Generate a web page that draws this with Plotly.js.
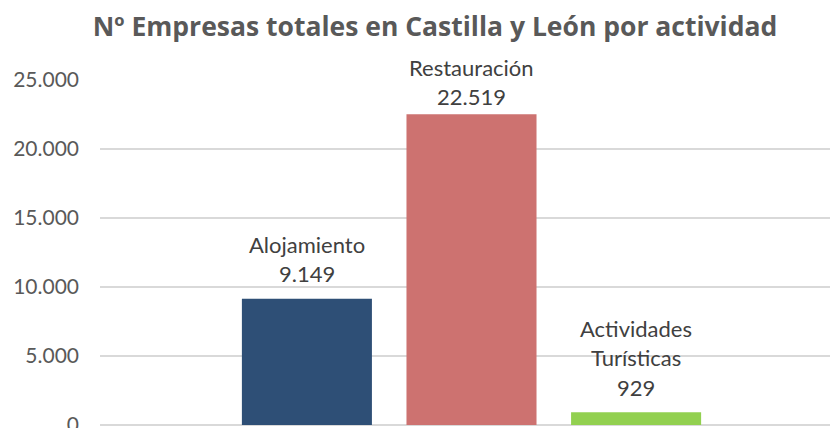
<!DOCTYPE html>
<html>
<head>
<meta charset="utf-8">
<script src="https://cdn.plot.ly/plotly-3.0.1.min.js"></script>
<style>html,body{margin:0;padding:0;background:#fff;}#chart{width:830px;height:428px;}</style>
</head>
<body>
<div id="chart"></div>
<script>
// Data
const categories = ["Alojamiento", "Restauración", "Actividades Turísticas"];
const values = [9149, 22519, 929];
const barColors = ["#2E4F76", "#CD7270", "#92D050"];
const titleText = "Nº Empresas totales en Castilla y León por actividad";

// Label styling (pixel offsets above bar top, not data)
const labelOffset = [25, 17.5, 25];
const lineStep = 29.5;

function fmt(v) {
  return String(v).replace(/\B(?=(\d{3})+(?!\d))/g, ".");
}

const trace = {
  type: "bar",
  x: categories,
  y: values,
  marker: { color: barColors },
  hoverinfo: "none"
};

const annotations = [];
categories.forEach((c, i) => {
  const lines = c.split(" ").concat([fmt(values[i])]);
  const n = lines.length;
  lines.forEach((t, j) => {
    annotations.push({
      x: c, y: values[i], xref: "x", yref: "y",
      text: t, showarrow: false,
      yanchor: "middle", xanchor: "center",
      yshift: labelOffset[i] + (n - 1 - j) * lineStep,
      font: { family: "Lato, sans-serif", size: 22, color: "#404040" }
    });
  });
});

const layout = {
  width: 830, height: 428,
  margin: { l: 100, r: 0, t: 80, b: 3, pad: 0 },
  paper_bgcolor: "#ffffff", plot_bgcolor: "#ffffff",
  separators: ",.",
  showlegend: false,
  bargap: 0.21,
  title: {
    text: "<b>" + titleText + "</b>",
    x: 435 / 830, xref: "container", xanchor: "center",
    y: 1 - 27 / 428, yref: "container", yanchor: "middle",
    font: { family: "'Open Sans', sans-serif", size: 26.5, color: "#595959" }
  },
  xaxis: {
    type: "category",
    range: [-1.257, 3.178],
    showticklabels: false, showgrid: false, zeroline: false, showline: false, ticks: ""
  },
  yaxis: {
    range: [0, 25000],
    dtick: 5000, tick0: 0,
    tickformat: ",d",
    showgrid: true, gridcolor: "#D9D9D9", gridwidth: 1.5,
    zeroline: true, zerolinecolor: "#D9D9D9", zerolinewidth: 1.5,
    showline: false, ticks: "",
    ticklabelstandoff: 20,
    ticklabeloverflow: "allow",
    tickfont: { family: "Lato, sans-serif", size: 21, color: "#595959" }
  },
  annotations: annotations
};

Plotly.newPlot("chart", [trace], layout, { displayModeBar: false, staticPlot: true });
</script>
</body>
</html>
